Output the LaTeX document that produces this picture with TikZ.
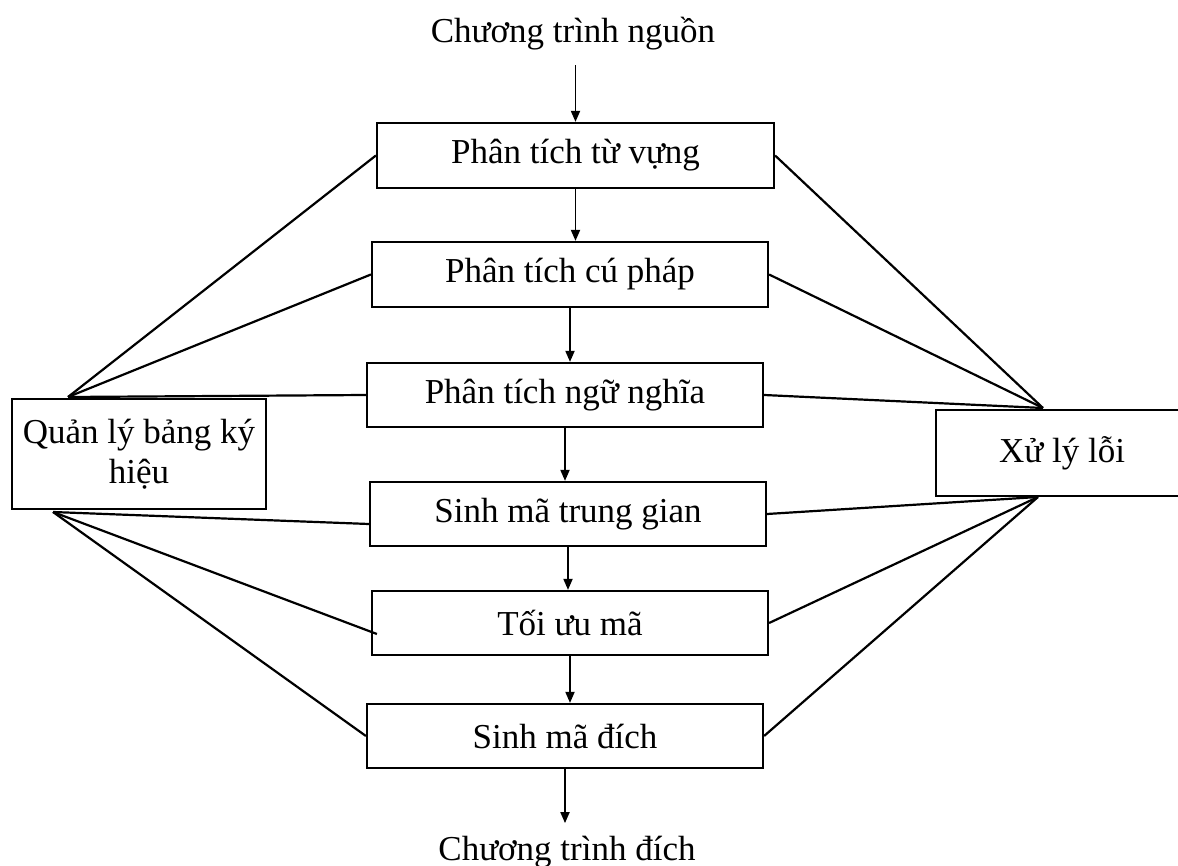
\documentclass[tikz,border=0pt]{standalone}
\usepackage{fontspec}
\setmainfont{Liberation Serif}
\usetikzlibrary{arrows.meta}

\tikzset{
    phase/.style={draw, line width=2.2pt, minimum width=396pt, minimum height=64pt, inner sep=0pt},
    sidebox/.style={draw, line width=2.2pt, inner sep=0pt, align=center},
    arr/.style={line width=1.8pt, -{Triangle[length=11pt,width=9pt]}},
    link/.style={line width=2.2pt}
}

\begin{document}
\begin{tikzpicture}[x=1pt, y=-1pt, font=\fontsize{35}{40}\selectfont]
    \useasboundingbox (0,0) rectangle (1178,866);
    \clip (0,0) rectangle (1178,866);
    % Phases of the compiler
    \node[phase, minimum width=397pt, minimum height=65pt] (lex) at (575.5,155.5) {Phân tích từ vựng};
    \node[phase, minimum height=65pt] (syn) at (570,274.5) {Phân tích cú pháp};
    \node[phase] (sem) at (565,395) {Phân tích ngữ nghĩa};
    \node[phase] (ir) at (568,514) {Sinh mã trung gian};
    \node[phase] (opt) at (570,623) {Tối ưu mã};
    \node[phase] (gen) at (565,736) {Sinh mã đích};
    % Input and output
    \node[anchor=base] (src) at (573,43) {Chương trình nguồn};
    \node[anchor=base] (dst) at (567,860) {Chương trình đích};
    % Side boxes
    \node[sidebox, minimum width=254pt, minimum height=110pt] (sym) at (139,454) {Quản lý bảng ký\\hiệu};
    \node[sidebox, minimum width=252pt, minimum height=86pt] (err) at (1062,453) {Xử lý lỗi};
    \coordinate (symtop) at (68,397);
    \coordinate (symbot) at (53,512);
    \coordinate (errtop) at (1043,408);
    \coordinate (errbot) at (1038,497);
    % Flow
    \draw[arr, shorten <=11pt] (src.south -| lex.north) -- (lex.north);
    \draw[arr] (lex.south) -- (lex.south |- syn.north);
    \draw[arr] (syn.south) -- (syn.south |- sem.north);
    \draw[arr] (sem.south) -- (sem.south |- ir.north);
    \draw[arr] (ir.south) -- (ir.south |- opt.north);
    \draw[arr] (opt.south) -- (opt.south |- gen.north);
    \draw[arr, shorten >=9pt] (gen.south) -- (gen.south |- dst.north);
    % Links to the symbol table
    \draw[link] (symtop) -- (lex.west);
    \draw[link] (symtop) -- (syn.west);
    \draw[link] (symtop) -- (sem.west);
    \draw[link] (symbot) -- ([yshift=-10pt]ir.west);
    \draw[link] (symbot) -- ([shift={(6pt,-11pt)}]opt.west);
    \draw[link] (symbot) -- (gen.west);
    % Links to the error handler
    \draw[link] (errtop) -- (lex.east);
    \draw[link] (errtop) -- (syn.east);
    \draw[link] (errtop) -- (sem.east);
    \draw[link] (errbot) -- (ir.east);
    \draw[link] (errbot) -- (opt.east);
    \draw[link] (errbot) -- (gen.east);
\end{tikzpicture}
\end{document}
